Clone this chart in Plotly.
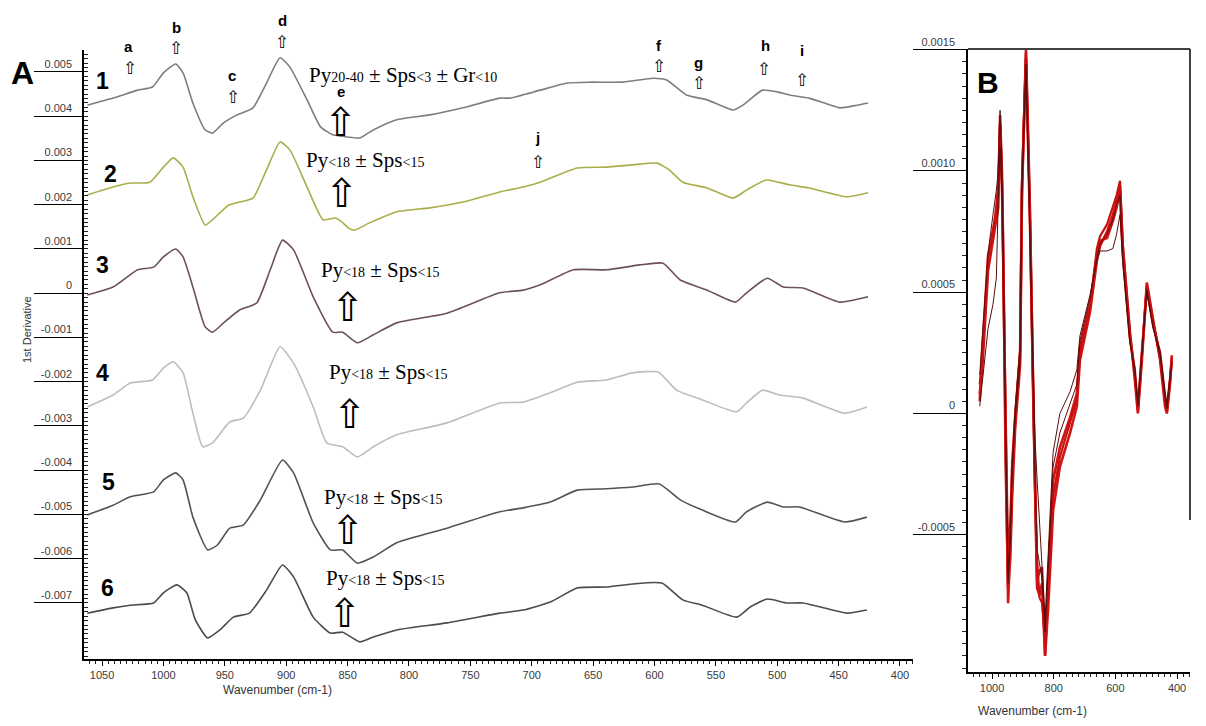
import plotly.graph_objects as go

# screen size and page offset (default 8px body margin of the html page)
SCREEN_W, SCREEN_H = 1206, 726
OFF = 8
W, H = SCREEN_W - OFF, SCREEN_H - OFF

# ---------------- Panel A data (1st derivative, units of 1e-3) ----------------
A1_wn = [1062, 1041, 1021, 1009, 1000, 990, 984, 976, 966, 960, 951, 940, 927, 916, 905, 897, 883, 872, 862, 855, 850, 840, 829, 810, 783, 756, 726, 718, 693, 671, 652, 626, 601, 590, 574, 557, 536, 528, 512, 500, 490, 474, 449, 435, 426]
A1_val = [4.25, 4.41, 4.59, 4.66, 4.98, 5.18, 4.98, 4.30, 3.69, 3.62, 3.85, 4.03, 4.19, 4.75, 5.32, 5.11, 4.37, 3.76, 3.58, 3.55, 3.53, 3.51, 3.69, 3.92, 4.03, 4.19, 4.41, 4.41, 4.59, 4.75, 4.77, 4.77, 4.86, 4.82, 4.48, 4.37, 4.14, 4.25, 4.59, 4.55, 4.48, 4.41, 4.19, 4.25, 4.30]

A2_wn = [1062, 1041, 1027, 1011, 1000, 992, 984, 976, 966, 960, 947, 938, 927, 916, 905, 897, 883, 870, 860, 855, 848, 844, 832, 810, 783, 756, 726, 707, 693, 663, 639, 618, 598, 588, 577, 557, 536, 525, 509, 490, 474, 443, 426]
A2_val = [2.22, 2.40, 2.49, 2.51, 2.85, 3.06, 2.85, 2.18, 1.54, 1.66, 1.99, 2.06, 2.15, 2.79, 3.42, 3.24, 2.40, 1.66, 1.70, 1.62, 1.45, 1.43, 1.59, 1.84, 1.93, 2.06, 2.29, 2.40, 2.51, 2.83, 2.85, 2.90, 2.94, 2.79, 2.51, 2.38, 2.15, 2.33, 2.56, 2.45, 2.38, 2.18, 2.27]

A3_wn = [1062, 1041, 1021, 1008, 1000, 990, 984, 976, 966, 960, 951, 938, 924, 913, 903, 894, 878, 862, 854, 842, 829, 810, 769, 726, 707, 693, 666, 639, 612, 593, 579, 557, 534, 525, 508, 495, 479, 449, 426]
A3_val = [-0.04, 0.14, 0.53, 0.59, 0.82, 1.00, 0.82, 0.14, -0.76, -0.88, -0.67, -0.38, -0.22, 0.53, 1.20, 0.98, -0.08, -0.88, -0.88, -1.12, -0.94, -0.67, -0.45, 0.01, 0.07, 0.19, 0.53, 0.53, 0.64, 0.68, 0.30, 0.07, -0.20, 0.01, 0.34, 0.14, 0.12, -0.20, -0.08]

A4_wn = [1062, 1041, 1027, 1009, 1000, 992, 984, 976, 968, 960, 946, 935, 921, 905, 894, 878, 867, 854, 842, 829, 810, 769, 726, 707, 685, 663, 639, 618, 597, 582, 561, 533, 525, 512, 498, 479, 445, 427]
A4_val = [-2.57, -2.30, -2.03, -1.96, -1.69, -1.55, -1.80, -2.71, -3.47, -3.38, -2.91, -2.82, -2.19, -1.21, -1.58, -2.57, -3.38, -3.47, -3.70, -3.47, -3.20, -2.93, -2.48, -2.46, -2.25, -2.01, -1.96, -1.80, -1.78, -2.19, -2.41, -2.68, -2.48, -2.19, -2.30, -2.37, -2.71, -2.57]

A5_wn = [1062, 1041, 1027, 1008, 1000, 990, 984, 976, 964, 956, 946, 935, 921, 903, 894, 878, 864, 854, 842, 829, 810, 769, 726, 707, 685, 663, 639, 618, 596, 579, 561, 534, 525, 508, 495, 482, 445, 427]
A5_val = [-5.01, -4.79, -4.60, -4.49, -4.22, -4.06, -4.22, -5.06, -5.80, -5.69, -5.31, -5.24, -4.67, -3.77, -4.06, -5.19, -5.80, -5.80, -6.10, -5.96, -5.64, -5.31, -4.94, -4.85, -4.72, -4.45, -4.42, -4.38, -4.31, -4.67, -4.90, -5.17, -4.94, -4.72, -4.83, -4.83, -5.17, -5.06]

A6_wn = [1062, 1041, 1027, 1008, 1000, 989, 981, 974, 964, 954, 943, 930, 916, 903, 894, 878, 864, 854, 840, 829, 810, 769, 726, 707, 685, 663, 639, 618, 594, 577, 561, 533, 522, 508, 492, 479, 443, 427]
A6_val = [-7.23, -7.11, -7.05, -7.00, -6.77, -6.59, -6.77, -7.38, -7.79, -7.61, -7.32, -7.23, -6.71, -6.14, -6.41, -7.32, -7.68, -7.66, -7.88, -7.77, -7.61, -7.45, -7.23, -7.16, -6.98, -6.66, -6.64, -6.57, -6.55, -6.93, -7.05, -7.32, -7.09, -6.91, -7.00, -7.00, -7.23, -7.16]

A_SCALE = 1e-3
A_series = [
    (A1_wn, A1_val, "#7d7d84"),
    (A2_wn, A2_val, "#a9ae4a"),
    (A3_wn, A3_val, "#6c4f60"),
    (A4_wn, A4_val, "#bdbdbd"),
    (A5_wn, A5_val, "#57505a"),
    (A6_wn, A6_val, "#4b4b4b"),
]
A_tickvals = [0.005, 0.004, 0.003, 0.002, 0.001, 0.0, -0.001, -0.002, -0.003, -0.004, -0.005, -0.006, -0.007]
A_ticktext = ["0.005", "0.004", "0.003", "0.002", "0.001", "0", "-0.001", "-0.002", "-0.003", "-0.004", "-0.005", "-0.006", "-0.007"]

# ---------------- Panel B data (units of 1e-4) ----------------
B_wn = [1040, 1032, 1013, 997, 986, 980, 974, 968, 964, 956, 948, 941, 935, 925, 909, 903, 896, 890, 884, 877, 867, 861, 854, 846, 838, 828, 818, 802, 780, 747, 725, 715, 682, 660, 650, 627, 608, 596, 585, 576, 553, 537, 527, 514, 498, 478, 455, 439, 433, 423, 417]
B1 = [0.8, 1.77, 5.88, 7.12, 8.0, 8.48, 11.93, 9.5, 6.58, -1.0, -7.82, -5.5, -2.76, -0.29, 2.47, 9.3, 12.5, 14.65, 11.5, 7.94, 1.36, -2.76, -6.87, -6.5, -6.34, -9.96, -6.87, -2.76, -1.4, -0.16, 0.82, 2.72, 4.53, 6.58, 7.12, 7.24, 7.94, 8.5, 9.18, 6.58, 3.13, 1.77, 0.12, 2.47, 5.19, 3.7, 2.47, 0.66, 0.12, 1.36, 2.18]
B2 = [0.5, 2.5, 6.5, 7.6, 8.3, 9.0, 12.3, 10.0, 7.0, -2.0, -7.2, -6.0, -3.5, -0.6, 2.0, 9.0, 12.8, 15.0, 12.0, 8.4, 1.0, -3.5, -7.2, -7.5, -7.0, -10.0, -8.0, -4.0, -2.2, -0.8, 0.3, 2.2, 4.2, 6.3, 6.9, 7.5, 8.2, 8.8, 9.4, 6.9, 3.4, 1.4, 0.0, 2.2, 5.4, 3.9, 2.2, 0.3, 0.0, 1.2, 2.4]
B3 = [0.3, 1.2, 3.5, 4.5, 5.6, 8.8, 11.0, 9.0, 6.0, -1.5, -7.0, -5.0, -2.2, 0.2, 2.8, 9.6, 12.0, 14.2, 11.0, 7.5, 1.8, -1.0, -2.7, -4.5, -6.0, -8.5, -5.8, -1.6, 0.0, 0.9, 1.8, 3.2, 4.9, 6.3, 6.7, 6.7, 6.8, 7.4, 8.2, 6.2, 2.9, 1.9, 0.4, 2.6, 5.0, 3.5, 2.6, 0.9, 0.4, 1.5, 2.0]
B4 = [1.2, 2.2, 6.2, 7.4, 8.6, 9.4, 12.0, 9.8, 6.2, -0.5, -5.8, -4.5, -2.0, 0.0, 2.6, 9.5, 13.0, 14.9, 11.8, 8.0, 1.2, -3.0, -6.0, -7.6, -7.8, -9.4, -7.4, -3.4, -1.8, -0.4, 0.6, 2.5, 4.4, 6.8, 7.3, 7.8, 8.6, 9.0, 9.6, 7.0, 3.3, 1.6, 0.2, 2.4, 5.3, 3.8, 2.3, 0.5, 0.1, 1.3, 2.3]
B5 = [1.6, 3.0, 6.6, 8.2, 9.2, 10.0, 12.5, 10.2, 7.2, -1.2, -6.6, -5.2, -2.5, -0.2, 2.2, 9.1, 12.6, 14.4, 11.4, 7.7, 1.5, -2.4, -5.6, -6.2, -6.8, -9.0, -6.5, -2.2, -0.8, 0.4, 1.2, 3.0, 4.8, 6.4, 7.0, 7.4, 8.0, 8.6, 9.0, 6.4, 3.0, 1.7, 0.3, 2.5, 5.1, 3.6, 2.4, 0.7, 0.2, 1.4, 2.1]
B_SCALE = 1e-4
B_tickvals = [0.0015, 0.0010, 0.0005, 0.0, -0.0005]
B_ticktext = ["0.0015", "0.0010", "0.0005", "0", "-0.0005"]

# curve labels
curve_numbers = ["1", "2", "3", "4", "5", "6"]
peak_letters = ["a", "b", "c", "d", "e", "f", "g", "h", "i", "j"]


def S(sz, t):
    return f'<span style="font-size:{sz}px">{t}</span>'


formula_1 = "Py" + S(14, "20-40") + " ± Sps" + S(14, "&lt;3") + " ± Gr" + S(14, "&lt;10")
formula_n = "Py" + S(14, "&lt;18") + " ± Sps" + S(14, "&lt;15")

fig = go.Figure()

for wn, val, col in A_series:
    fig.add_trace(go.Scatter(x=wn, y=[v * A_SCALE for v in val], mode="lines",
                             line=dict(color=col, width=1.6, shape="spline", smoothing=0.5),
                             xaxis="x", yaxis="y", showlegend=False, hoverinfo="skip"))

for arr, col, wdt in [(B1, "#d41414", 2.6), (B2, "#d41414", 2.6), (B4, "#c81010", 2.2),
                      (B3, "#5a0c0c", 1.0), (B5, "#5a0c0c", 1.0)]:
    fig.add_trace(go.Scatter(x=B_wn, y=[v * B_SCALE for v in arr], mode="lines",
                             line=dict(color=col, width=wdt),
                             xaxis="x2", yaxis="y2", showlegend=False, hoverinfo="skip"))


def px(x):
    return (x - OFF) / W


def py(y):
    return 1 - (y - OFF) / H


ann = []


def T(x, y, text, size, family="Arial", bold=False, color="black", angle=0, xanchor="center"):
    if bold:
        text = "<b>" + text + "</b>"
    ann.append(dict(x=px(x), y=py(y), xref="paper", yref="paper", text=text, showarrow=False,
                    font=dict(family=family, size=size, color=color), textangle=angle,
                    xanchor=xanchor, yanchor="middle"))


# panel letters
T(22, 73, "A", 32, "Arial Black, Arial", True)
T(988, 83, "B", 30, "Arial Black, Arial", True)

# curve numbers
num_pos = [(102, 81), (110, 174), (102, 265), (102, 373), (108, 482), (107, 588)]
for n, (x, y) in zip(curve_numbers, num_pos):
    T(x, y, n, 23, "Arial", True)

# peak letters and small arrows
letter_pos = [(128, 47), (176, 27), (232, 75), (282, 21), (341, 91), (659, 45), (698, 63), (765, 45), (802, 51), (537, 138)]
arrow_pos = [(130, 68), (176, 48), (233, 97), (282, 42), (0, 0), (659, 66), (699, 83), (764, 69), (802, 80), (538, 162)]
for L, (x, y), (ax, ay) in zip(peak_letters, letter_pos, arrow_pos):
    T(x, y, L, 15, "Arial", True)
    if L != "e":
        T(ax, ay, "⇧", 17, "DejaVu Sans")

# big arrows
big_arrows = [(341, 122), (342, 193), (348, 307), (350, 414), (348, 530), (345, 613)]
for x, y in big_arrows:
    T(x, y, "⇧", 40, "DejaVu Sans")

# formulas
T(307, 75, formula_1, 21, "Liberation Serif, Times New Roman, serif", xanchor="left")
form_pos = [(304, 160), (319, 270), (327, 372), (322, 497), (324, 578)]
for x, y in form_pos:
    T(x, y, formula_n, 21, "Liberation Serif, Times New Roman, serif", xanchor="left")

# axis titles
T(27, 330, "1st Derivative", 11, "Arial", color="#333333", angle=-90)
T(277, 690, "Wavenumber (cm-1)", 12, "Arial", color="#333333")
T(1032, 711, "Wavenumber (cm-1)", 12, "Arial", color="#333333")

tickfont = dict(family="Arial", size=11, color="#3a3a3a")

fig.update_layout(
    width=W, height=H,
    margin=dict(l=0, r=0, t=0, b=0, autoexpand=False),
    paper_bgcolor="white", plot_bgcolor="white",
    annotations=ann,
    xaxis=dict(domain=[px(84), px(913)], range=[1064.7, 389.4], autorange=False, automargin=False,
               tick0=0, dtick=50, showline=True, linecolor="black", linewidth=1.5,
               ticks="outside", ticklen=5, tickcolor="black", tickwidth=1,
               minor=dict(dtick=5, ticks="outside", ticklen=3, tickcolor="#222"),
               showgrid=False, zeroline=False, tickfont=tickfont, anchor="y"),
    yaxis=dict(domain=[py(659), py(50)], range=[-0.008266, 0.005497], autorange=False, automargin=False,
               tickmode="array", tickvals=A_tickvals, ticktext=A_ticktext,
               showline=True, linecolor="black", linewidth=1.5,
               ticks="outside", ticklen=48, tickcolor="black", tickwidth=1.3,
               ticklabelstandoff=-40, ticklabelshift=-8,
               minor=dict(tick0=0, dtick=0.0001, ticks="inside", ticklen=4, tickcolor="#222"),
               showgrid=False, zeroline=False, tickfont=tickfont, anchor="x"),
    xaxis2=dict(domain=[px(968), px(1190)], range=[1078, 358], autorange=False, automargin=False,
                tick0=0, dtick=200, showline=True, linecolor="black", linewidth=1.5,
                ticks="outside", ticklen=5, tickcolor="black",
                minor=dict(dtick=20, ticks="outside", ticklen=3, tickcolor="#222"),
                showgrid=False, zeroline=False, tickfont=tickfont, anchor="y2"),
    yaxis2=dict(domain=[py(672), py(49)], range=[-0.001066, 0.001503], autorange=False, automargin=False,
                tickmode="array", tickvals=B_tickvals, ticktext=B_ticktext,
                showline=True, linecolor="black", linewidth=1.5,
                ticks="outside", ticklen=53, tickcolor="black", tickwidth=1.3,
                ticklabelstandoff=-44, ticklabelshift=-8,
                minor=dict(tick0=0, dtick=0.00005, ticks="outside", ticklen=4, tickcolor="#222"),
                showgrid=False, zeroline=False, tickfont=tickfont, anchor="x2"),
    shapes=[
        dict(type="line", xref="paper", yref="paper", x0=px(968), x1=px(1190), y0=py(49), y1=py(49),
             line=dict(color="black", width=1.5)),
        dict(type="line", xref="paper", yref="paper", x0=px(1190), x1=px(1190), y0=py(49), y1=py(520),
             line=dict(color="black", width=1.5)),
    ],
)

fig.write_html("out.html")
